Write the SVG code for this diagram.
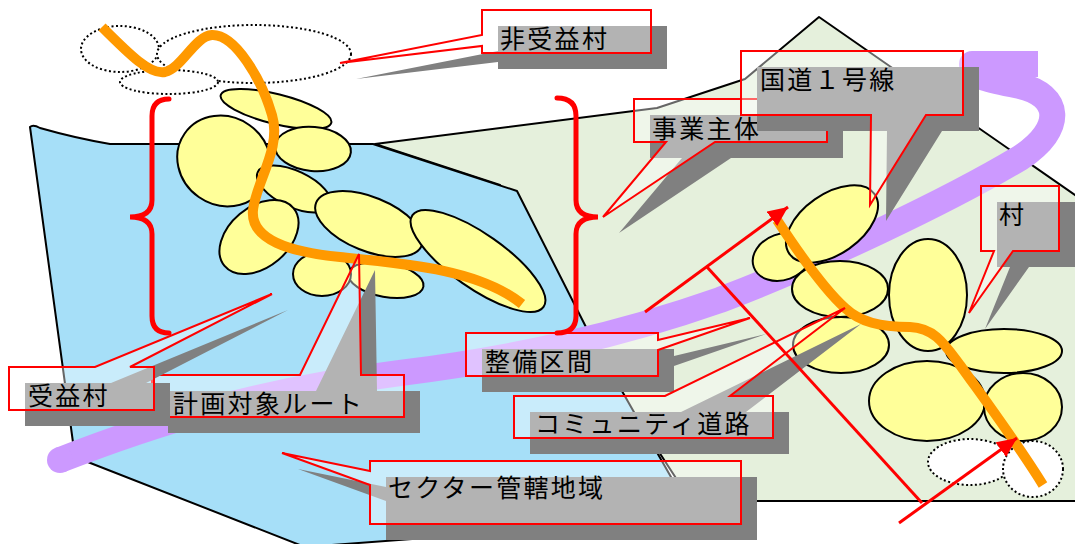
<svg xmlns="http://www.w3.org/2000/svg" width="1075" height="544" viewBox="0 0 1075 544">
  <defs>
    <style>
      .zone { stroke: #000; stroke-width: 2; stroke-linejoin: round; }
      .house { fill: #ffff99; stroke: #000; stroke-width: 2; }
      .dotted { fill: #fff; stroke: #000; stroke-width: 2; stroke-dasharray: 2 2.5; }
      .orange { fill: none; stroke: #ff9900; stroke-width: 10; stroke-linejoin: round; }
      .brace { fill: none; stroke: #ff0000; stroke-width: 5; stroke-linecap: round; }
      .shadow { fill: #808080; }
      .call { fill: #ffffff; fill-opacity: 0.4; stroke: #ff0000; stroke-width: 2; }
      .lbl { font-family: "Noto Sans CJK JP", "Noto Sans", sans-serif; font-size: 25px; letter-spacing: 2.3px; fill: #000; }
      .arrow { stroke: #ff0000; stroke-width: 3; fill: none; }
    </style>
    <marker id="head" markerUnits="userSpaceOnUse" markerWidth="22" markerHeight="18" refX="20" refY="9" orient="auto">
      <path d="M0,0 L20,9 L0,18 Z" fill="#ff0000"/>
    </marker>
  </defs>

  <!-- areas -->
  <g id="areas">
    <path class="zone" fill="#e5f0dc" d="M375,144 L657,108 L745,79 L819,17 L1085,202 L1085,501 L757,501 L700,515 L560,300 L500,185 Z"/>
    <path class="zone" fill="#a6dff8" d="M30,127 Q33,124 40,128 Q75,138 110,144 L373,144 L517,191 L590,335 L671,477 L692,518 L305,547 L75,457 Z"/>
  </g>

  <!-- national road -->
  <g id="national-road">
    <path d="M60,460 C150,425 250,392 400,373 C520,358 620,335 720,300 C820,262 950,200 1020,158 C1066,128 1060,95 1020,86 C990,80 972,78 972,64 L1038,64" fill="none" stroke="#cc99ff" stroke-width="26" stroke-linejoin="round"/>
    <circle cx="60" cy="460" r="13" fill="#cc99ff"/>
  </g>

  <!-- villages -->
  <g id="villages-non-benefit">
    <ellipse class="dotted" cx="120" cy="49" rx="39" ry="23"/>
    <ellipse class="dotted" cx="254" cy="54" rx="97" ry="29"/>
    <ellipse class="dotted" cx="169" cy="82" rx="49" ry="12"/>
  </g>
  <g id="villages-left">
    <ellipse class="house" cx="276" cy="109" rx="57" ry="15" transform="rotate(14 276 109)"/>
    <ellipse class="house" cx="224" cy="161" rx="48" ry="44" transform="rotate(35 224 161)"/>
    <ellipse class="house" cx="313" cy="149" rx="38" ry="22" transform="rotate(5 313 149)"/>
    <ellipse class="house" cx="294" cy="189" rx="40" ry="18" transform="rotate(25 294 189)"/>
    <ellipse class="house" cx="259" cy="237" rx="45" ry="30" transform="rotate(-40 259 237)"/>
    <ellipse class="house" cx="369" cy="224" rx="57" ry="27" transform="rotate(22 369 224)"/>
    <ellipse class="house" cx="478" cy="261" rx="80" ry="27" transform="rotate(35 478 261)"/>
    <ellipse class="house" cx="386" cy="280" rx="38" ry="17" transform="rotate(10 386 280)"/>
    <ellipse class="house" cx="322" cy="274" rx="29" ry="22"/>
  </g>
  <g id="villages-right">
    <ellipse class="house" cx="782" cy="257" rx="30" ry="23" transform="rotate(-20 782 257)"/>
    <ellipse class="house" cx="832" cy="224" rx="52" ry="30" transform="rotate(-35 832 224)"/>
    <ellipse class="house" cx="840" cy="289" rx="48" ry="28"/>
    <ellipse class="house" cx="841" cy="345" rx="48" ry="28"/>
    <ellipse class="house" cx="928" cy="295" rx="39" ry="56"/>
    <ellipse class="house" cx="1004" cy="351" rx="58" ry="22"/>
    <ellipse class="house" cx="927" cy="401" rx="58" ry="40"/>
    <ellipse class="house" cx="1023" cy="407" rx="39" ry="34"/>
    <ellipse class="dotted" cx="970" cy="462" rx="42" ry="23"/>
    <ellipse class="dotted" cx="1033" cy="469" rx="30" ry="28"/>
  </g>

  <!-- planned routes -->
  <g id="routes">
    <path class="orange" d="M102,27 C130,55 150,75 165,72 C182,68 195,36 212,35 C235,34 262,80 272,115 C282,148 256,182 253,210 C250,240 290,252 340,257 C410,264 480,270 522,304"/>
    <path class="orange" d="M777,220 C800,255 825,290 845,308 C860,322 880,327 910,327 C935,328 945,345 960,365 C985,400 1015,440 1043,485"/>
  </g>

  <!-- callouts -->
  <g id="callout-hijueki">
    <path class="shadow" transform="translate(16 16)" d="M482,10 H651 V53 H482 V46 L340,63 L482,35 Z"/>
    <path class="call" d="M482,10 H651 V53 H482 V46 L340,63 L482,35 Z"/>
    <text class="lbl" x="500" y="48">非受益村</text>
  </g>
  <g id="callout-jigyo">
    <path class="shadow" transform="translate(16 16)" d="M634,99 H827 V142 H715 L603,217 L666,142 H634 Z"/>
    <path class="call" d="M634,99 H827 V142 H715 L603,217 L666,142 H634 Z"/>
    <text class="lbl" x="652" y="138">事業主体</text>
  </g>
  <g id="callout-kokudo">
    <path class="shadow" transform="translate(16 16)" d="M741,51 H963 V115 H926 L870,205 L871,115 H741 Z"/>
    <path class="call" d="M741,51 H963 V115 H926 L870,205 L871,115 H741 Z"/>
    <text class="lbl" x="760" y="89">国道１号線</text>
  </g>
  <g id="callout-mura">
    <path class="shadow" transform="translate(16 16)" d="M981,186 H1059 V251 H1013 L969,313 L994,251 H981 Z"/>
    <path class="call" d="M981,186 H1059 V251 H1013 L969,313 L994,251 H981 Z"/>
    <text class="lbl" x="999" y="224">村</text>
  </g>
  <g id="callout-keikaku">
    <path class="shadow" transform="translate(16 16)" d="M152,375 H300 L359,254 L361,375 H404 V417 H152 Z"/>
    <path class="call" d="M152,375 H300 L359,254 L361,375 H404 V417 H152 Z"/>
    <text class="lbl" x="173" y="413">計画対象ルート</text>
  </g>
  <g id="callout-jueki">
    <path class="shadow" transform="translate(16 16)" d="M9,367 H95 L272,294 L130,367 H154 V410 H9 Z"/>
    <path class="call" d="M9,367 H95 L272,294 L130,367 H154 V410 H9 Z"/>
    <text class="lbl" x="28" y="405">受益村</text>
  </g>
  <g id="callout-seibi">
    <path class="shadow" transform="translate(16 16)" d="M466,333 H658 V340 L750,318 L658,350 V376 H466 Z"/>
    <path class="call" d="M466,333 H658 V340 L750,318 L658,350 V376 H466 Z"/>
    <text class="lbl" x="485" y="371">整備区間</text>
  </g>
  <g id="callout-community">
    <path class="shadow" transform="translate(16 16)" d="M514,396 H665 L845,308 L730,396 H773 V438 H514 Z"/>
    <path class="call" d="M514,396 H665 L845,308 L730,396 H773 V438 H514 Z"/>
    <text class="lbl" x="535" y="433">コミュニティ道路</text>
  </g>
  <g id="callout-sector">
    <path class="shadow" transform="translate(16 16)" d="M370,461 H741 V524 H370 V485 L282,453 L370,471 Z"/>
    <path class="call" d="M370,461 H741 V524 H370 V485 L282,453 L370,471 Z"/>
    <text class="lbl" x="388" y="497">セクター管轄地域</text>
  </g>

  <!-- braces and section arrows -->
  <g id="connectors">
    <path class="brace" d="M169,99 Q152,99 152,116 L152,200 Q152,217 130,217 Q152,217 152,234 L152,316 Q152,333 169,333"/>
    <path class="brace" d="M557,98 Q576,98 576,116 L576,200 Q576,217 598,217 Q576,217 576,234 L576,316 Q576,333 557,333"/>
    <line class="arrow" x1="645" y1="312" x2="788" y2="207" marker-end="url(#head)"/>
    <line class="arrow" x1="899" y1="523" x2="1017" y2="438" marker-end="url(#head)"/>
    <line class="arrow" x1="707" y1="267" x2="922" y2="503"/>
  </g>
</svg>
